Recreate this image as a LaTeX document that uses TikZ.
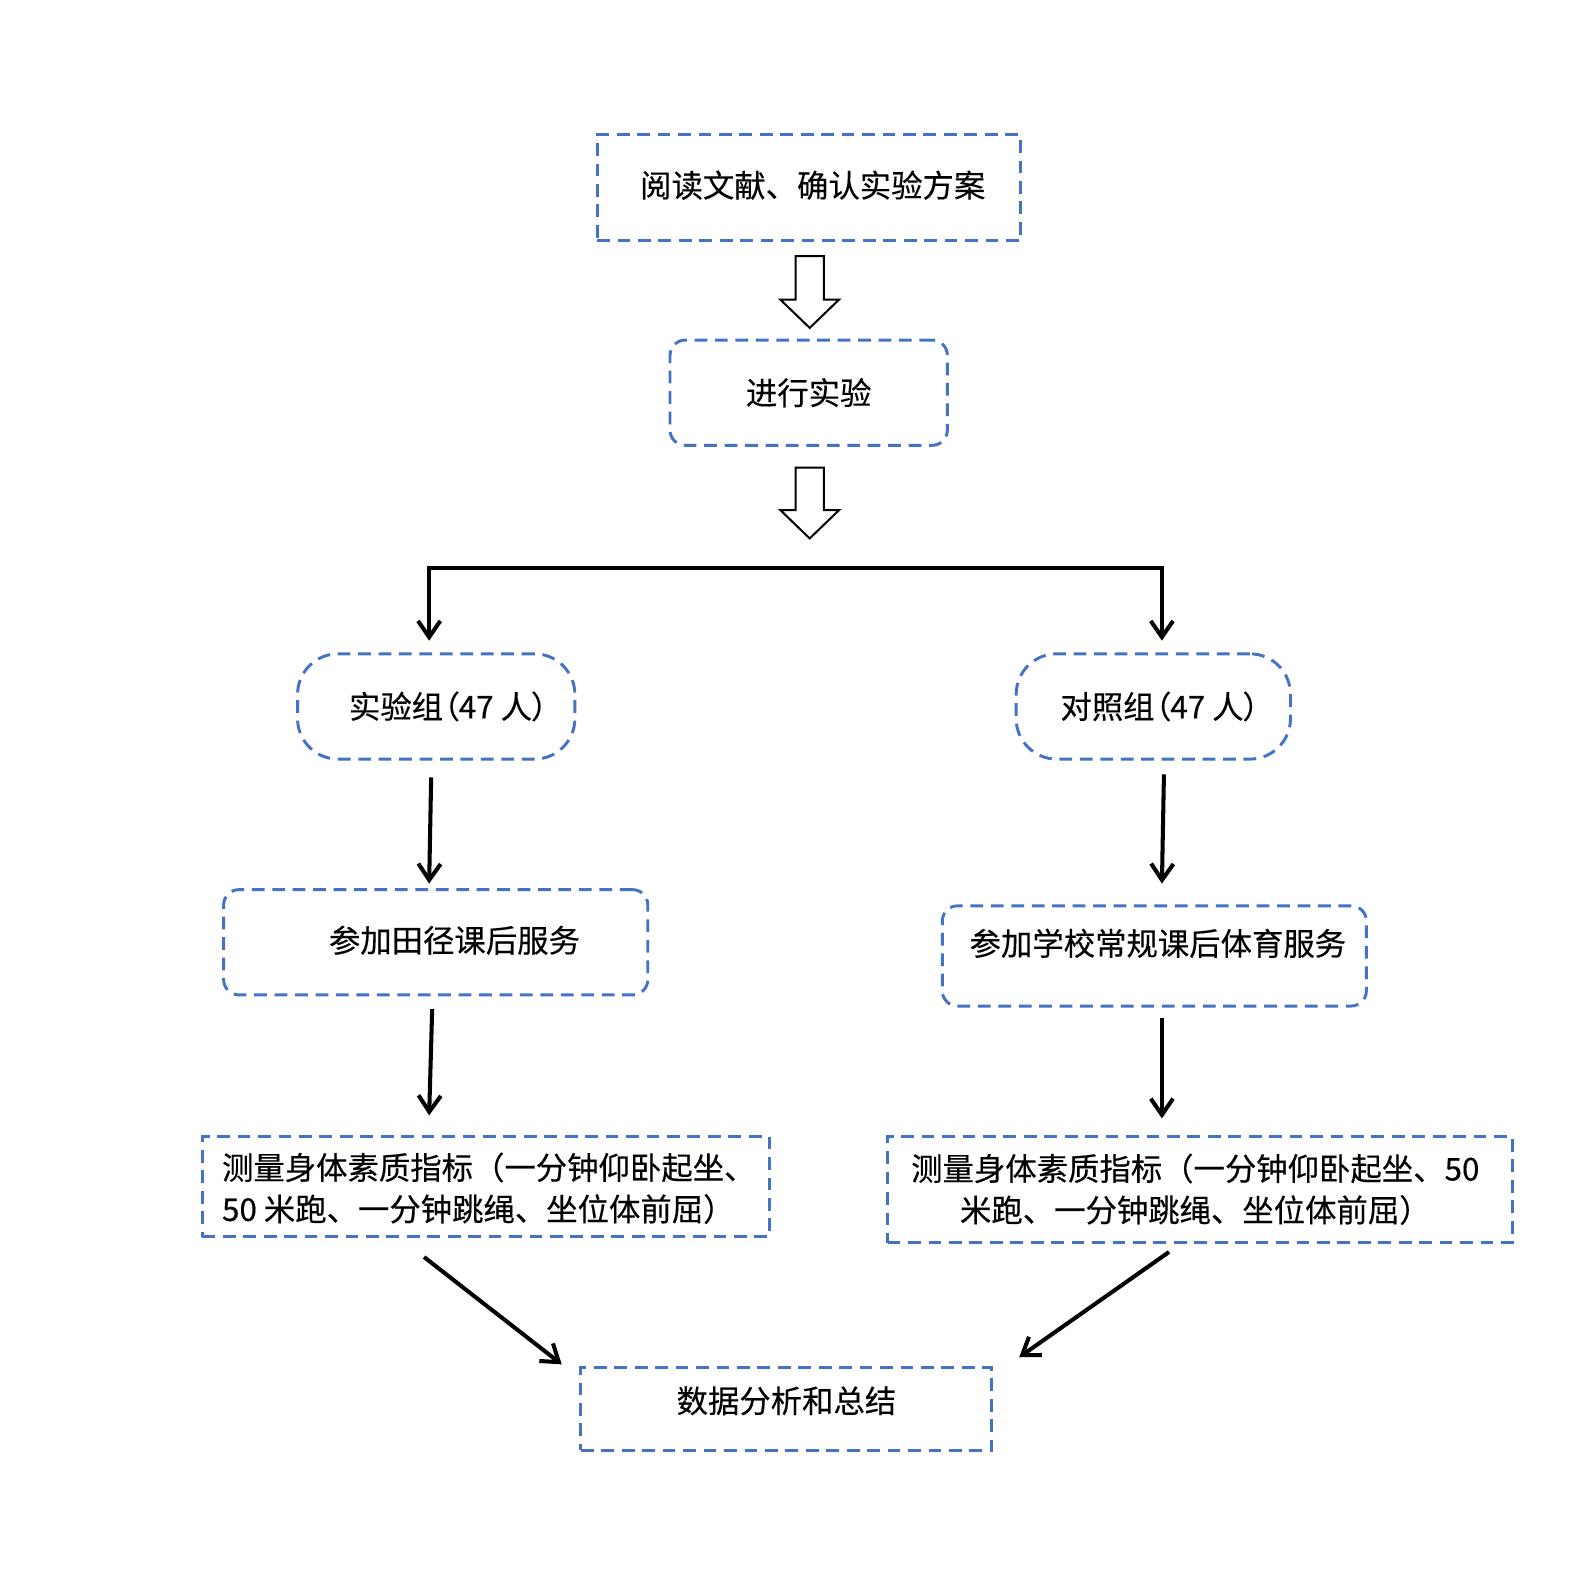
\documentclass[tikz,border=0pt]{standalone}
\usepackage{fontspec}
\setmainfont[FakeBold=0.3]{Noto Sans CJK SC}
\usetikzlibrary{arrows.meta}
\definecolor{bxblue}{RGB}{68,114,196}
\begin{document}
\begin{tikzpicture}[x=0.5pt,y=-0.5pt,
  box/.style={draw=bxblue, line width=1.45pt, dash pattern=on 6.3pt off 3.8pt, inner sep=0pt, outer sep=0pt, rectangle},
  lbl/.style={inner sep=0pt, font=\fontsize{15.5pt}{20.5pt}\selectfont},
  arr/.style={line width=2pt, -{Straight Barb[length=8pt,width=11pt,line width=2pt]}},
  blk/.style={draw=black, line width=1pt, fill=white, line join=miter}]
\useasboundingbox[fill=white] (0,0) rectangle (1568,1567);

% boxes
\node[box, minimum width=209pt, minimum height=52.5pt] (b1) at (799,185.5) {};
\node[box, rounded corners=7.5pt, minimum width=137pt, minimum height=52pt] (b2) at (799,388) {};
\node[box, rounded corners=20pt, minimum width=137pt, minimum height=52pt] (b3L) at (431,698) {};
\node[box, rounded corners=20pt, minimum width=135.5pt, minimum height=52pt] (b3R) at (1139.5,698) {};
\node[box, rounded corners=7.5pt, minimum width=209.5pt, minimum height=52pt] (b4L) at (430.5,931) {};
\node[box, rounded corners=7.5pt, minimum width=209.5pt, minimum height=49.5pt] (b4R) at (1140.5,944.5) {};
\node[box, minimum width=280pt, minimum height=49.5pt] (b5L) at (480,1172.5) {};
\node[box, minimum width=308.5pt, minimum height=52.5pt] (b5R) at (1185.5,1175.5) {};
\node[box, minimum width=203pt, minimum height=41pt] (b6) at (777,1392) {};

% texts
\node[lbl] (t1) at (803,183) {阅读文献、确认实验方案};
\node[lbl] (t2) at (799,388) {进行实验};
\node[lbl] (t3L) at (443,698) {\addfontfeatures{RawFeature=+palt}实验组（47 人）};
\node[lbl] (t3R) at (1146,698) {\addfontfeatures{RawFeature=+palt}对照组（47 人）};
\node[lbl] (t4L) at (449,929) {参加田径课后服务};
\node[lbl] (t4R) at (1144,932) {参加学校常规课后体育服务};
\node[lbl, anchor=west, align=left] (t5L) at (219,1174) {测量身体素质指标（一分钟仰卧起坐、\\50 米跑、一分钟跳绳、坐位体前屈）};
\node[lbl, align=center] (t5R) at (1181,1175) {测量身体素质指标（一分钟仰卧起坐、50\\米跑、一分钟跳绳、坐位体前屈）};
\node[lbl] (t6) at (777,1384) {数据分析和总结};

% block arrows
\draw[blk] (786,253) -- (814,253) -- (814,296) -- (829,296) -- (800,324) -- (771,296) -- (786,296) -- cycle;
\draw[blk] (786,462) -- (814,462) -- (814,504) -- (829,504) -- (800,532) -- (771,504) -- (786,504) -- cycle;

% branch
\coordinate (jL) at (424,561);
\coordinate (jR) at (1148,561);
\coordinate (eL) at (424,633);
\coordinate (eR) at (1148,633);
\draw[line width=2pt, line cap=rect] (jL) -- (jR);
\draw[arr] (jL) -- (eL);
\draw[arr] (jR) -- (eR);

% vertical arrows
\coordinate (s3L) at (426,768); \coordinate (e3L) at (424,873);
\coordinate (s3R) at (1150,765); \coordinate (e3R) at (1148,873);
\coordinate (s4L) at (427,997); \coordinate (e4L) at (424,1102);
\coordinate (s4R) at (1148,1006); \coordinate (e4R) at (1148,1105);
\coordinate (s5L) at (419,1242); \coordinate (e5L) at (555,1348);
\coordinate (s5R) at (1155,1237); \coordinate (e5R) at (1007,1341);
\draw[arr] (s3L) -- (e3L);
\draw[arr] (s3R) -- (e3R);
\draw[arr] (s4L) -- (e4L);
\draw[arr] (s4R) -- (e4R);
\draw[arr] (s5L) -- (e5L);
\draw[arr] (s5R) -- (e5R);
\end{tikzpicture}
\end{document}
